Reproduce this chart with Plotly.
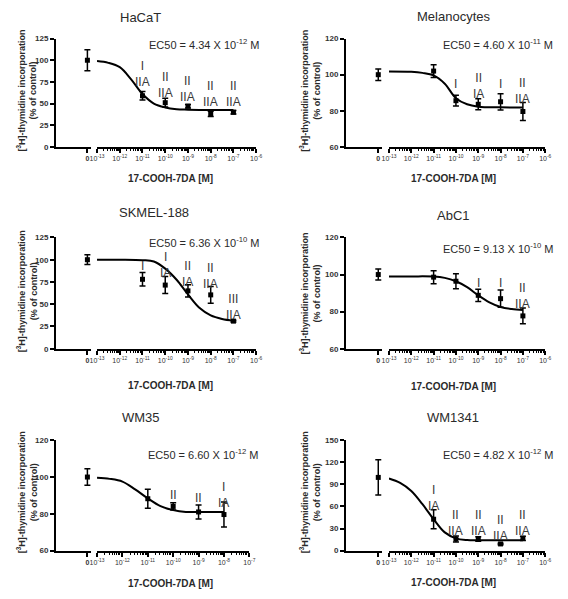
import numpy as np
import plotly.graph_objects as go

# page body has an 8px default margin; the figure is laid out in page pixels
OFF = 8
W, H = 552, 583

# ---------------- data ----------------
panel_names = ["HaCaT", "Melanocytes", "SKMEL-188", "AbC1", "WM35", "WM1341"]
ec50_texts = ["EC50 = 4.34 X 10<sup>-12</sup> M", "EC50 = 4.60 X 10<sup>-11</sup> M",
              "EC50 = 6.36 X 10<sup>-10</sup> M", "EC50 = 9.13 X 10<sup>-10</sup> M",
              "EC50 = 6.60 X 10<sup>-12</sup> M", "EC50 = 4.82 X 10<sup>-12</sup> M"]

conc_std = [1e-11, 1e-10, 1e-9, 1e-8, 1e-7]
conc_wm35 = [1e-11, 1e-10, 1e-9, 1e-8]

ctrl_mean = [100, 100, 100, 100, 100, 99.5]
ctrl_err = [12, 3.2, 5.5, 3, 4.5, 24]

hacat_mean = [59, 51, 47, 38, 40]
hacat_err = [5, 5, 2, 3, 2]
mel_mean = [102, 85.6, 83.6, 85, 79.6]
mel_err = [3.5, 3, 3, 4.5, 5]
skmel_mean = [78, 71.5, 65, 60.5, 31]
skmel_err = [7.5, 9.5, 7, 9.5, 1]
abc1_mean = [98.6, 96.4, 88.8, 87, 77.7]
abc1_err = [3.5, 4, 3.3, 4.7, 4.2]
wm35_mean = [88.2, 84, 81, 79.6]
wm35_err = [5.2, 2, 3.8, 6.8]
wm1341_mean = [42.6, 15.7, 15.7, 9, 16.6]
wm1341_err = [13, 4, 3, 1, 3]

# fitted curves (log10 concentration, % of control)
hacat_fit_x = [-13, -12.5, -12, -11.5, -11, -10.5, -10, -9.5, -9, -8, -7]
hacat_fit_y = [99, 97, 92, 78, 61, 50, 45.5, 43.5, 43, 42.5, 42.5]
mel_fit_x = [-13, -12, -11.5, -11, -10.5, -10, -9.5, -9, -8, -7]
mel_fit_y = [101.8, 101.6, 101, 99.6, 95, 87, 83.6, 82.3, 81.9, 81.8]
skmel_fit_x = [-13, -12, -11, -10.5, -10, -9.5, -9, -8.5, -8, -7.5, -7]
skmel_fit_y = [100, 100, 99.5, 98, 90, 77.5, 61, 46, 37.5, 33.5, 31.5]
abc1_fit_x = [-13, -12, -11, -10.5, -10, -9.5, -9, -8.5, -8, -7.5, -7]
abc1_fit_y = [99, 99, 98.9, 98.2, 96.4, 93.2, 88.8, 85, 82.5, 81.4, 80.9]
wm35_fit_x = [-13, -12.5, -12, -11.5, -11, -10.5, -10, -9.5, -9, -8]
wm35_fit_y = [99.6, 99, 97.5, 93.3, 88.4, 84.2, 82, 81, 81, 81]
wm1341_fit_x = [-13, -12.5, -12, -11.5, -11, -10.5, -10, -9.5, -9, -8, -7]
wm1341_fit_y = [98, 92, 81, 63, 42.6, 24.7, 16.6, 14.3, 14, 14, 14]

# significance labels
hacat_labels = ["I<br>IIA", "II<br>IIA", "II<br>IIA", "II<br>IIA", "II<br>IIA"]
hacat_label_y = [84, 72, 66.5, 60.5, 60.5]
mel_labels = ["", "I", "II<br>IA", "I", "II<br>IIA"]
mel_label_y = [0, 95, 93.7, 94.8, 91]
skmel_labels = ["I", "I<br>IA", "II<br>IA", "II<br>IIA", "III<br>IIA"]
skmel_label_y = [93, 94, 84.5, 82, 47]
abc1_labels = ["", "", "I", "I", "II<br>IIA"]
abc1_label_y = [0, 0, 95.4, 95.4, 88.2]
wm35_labels = ["", "II", "II", "I<br>IA"]
wm35_label_y = [0, 90.2, 88.4, 90.4]
wm1341_labels = ["I<br>IA", "II<br>IIA", "II<br>IIA", "II<br>IIA", "II<br>IIA"]
wm1341_label_y = [71, 37.6, 37.6, 30.5, 37.6]

y_ticks = [[0, 25, 50, 75, 100, 125], [60, 80, 100, 120], [0, 25, 50, 75, 100, 125],
           [60, 80, 100, 120], [60, 80, 100, 120], [0, 30, 60, 90, 120, 150]]
x_max_exp = [-6, -6, -6, -6, -7, -6]

panels = [
    (conc_std, hacat_mean, hacat_err, hacat_fit_x, hacat_fit_y, hacat_labels, hacat_label_y),
    (conc_std, mel_mean, mel_err, mel_fit_x, mel_fit_y, mel_labels, mel_label_y),
    (conc_std, skmel_mean, skmel_err, skmel_fit_x, skmel_fit_y, skmel_labels, skmel_label_y),
    (conc_std, abc1_mean, abc1_err, abc1_fit_x, abc1_fit_y, abc1_labels, abc1_label_y),
    (conc_wm35, wm35_mean, wm35_err, wm35_fit_x, wm35_fit_y, wm35_labels, wm35_label_y),
    (conc_std, wm1341_mean, wm1341_err, wm1341_fit_x, wm1341_fit_y, wm1341_labels, wm1341_label_y),
]

# ---------------- layout geometry (page pixels) ----------------
rows_px = [(35, 145), (237, 350), (443, 555)]
col_zero_px = [(50, 86), (347, 384)]
col_log_px = [(92, 255), (391, 551)]
wm35_log_px = (92, 248)
title_pos = [(137, 14), (457, 13), (150, 212), (457, 215), (137, 420), (457, 420)]
ec50_pos = [(202, 40), (503, 40), (202, 242), (503, 248), (201, 457), (503, 457)]
xtitle_pos = [(167, 177), (457, 177), (167, 387), (457, 388), (167, 588), (457, 587)]
ytitle_pos = [(20, 88), (310, 88), (20, 292), (310, 294), (20, 496), (310, 496)]

FONT = "Arial, Liberation Sans, sans-serif"
TXT = "#2a2a2a"

fig = go.Figure()
layout = dict(width=W, height=H, margin=dict(l=0, r=0, t=0, b=0),
              paper_bgcolor="white", plot_bgcolor="white", showlegend=False,
              font=dict(family=FONT, color=TXT))
annotations = []


def fx_(p):
    return (p - OFF) / W


def fy_(p):
    return 1 - (p - OFF) / H


def px_x(a, b):
    return [fx_(a), fx_(b)]


def px_y(top, bottom):
    return [fy_(bottom), fy_(top)]


for i, (conc, mean, err, fx, fy, labels, label_y) in enumerate(panels):
    row, col = divmod(i, 2)
    xz = 2 * i + 1
    xl = 2 * i + 2
    yn = i + 1
    xz_name = "x" if xz == 1 else f"x{xz}"
    xl_name = f"x{xl}"
    y_name = "y" if yn == 1 else f"y{yn}"
    yt = y_ticks[i]
    logx = list(np.log10(conc))

    # control (zero) point
    fig.add_trace(go.Scatter(x=[0], y=[ctrl_mean[i]], xaxis=xz_name, yaxis=y_name, mode="markers",
                             marker=dict(symbol="square", size=5, color="black"),
                             error_y=dict(type="data", array=[ctrl_err[i]], color="black",
                                          thickness=1.5, width=3),
                             cliponaxis=False))
    # fitted curve
    fig.add_trace(go.Scatter(x=fx, y=fy, xaxis=xl_name, yaxis=y_name, mode="lines",
                             line=dict(color="black", width=2, shape="spline"),
                             cliponaxis=False))
    # data points
    fig.add_trace(go.Scatter(x=logx, y=mean, xaxis=xl_name, yaxis=y_name, mode="markers",
                             marker=dict(symbol="square", size=5, color="black"),
                             error_y=dict(type="data", array=err, color="black",
                                          thickness=1.5, width=3),
                             cliponaxis=False))

    top, bottom = rows_px[row]
    zdom = col_zero_px[col]
    ldom = wm35_log_px if i == 4 else col_log_px[col]
    xmax = x_max_exp[i]
    major = list(range(-13, xmax + 1))
    minor_vals = [d + np.log10(k) for d in range(-13, xmax) for k in range(2, 10)]

    axis_common = dict(showline=True, linecolor="black", linewidth=2, showgrid=False,
                       zeroline=False, ticks="outside", ticklen=4, tickwidth=1.5,
                       tickcolor="black")

    yaxis_key = "yaxis" if yn == 1 else f"yaxis{yn}"
    layout[yaxis_key] = dict(axis_common, domain=px_y(top, bottom), range=[yt[0], yt[-1]],
                             tickvals=yt, ticktext=[f"<b>{v}</b>" for v in yt],
                             tickfont=dict(size=8, color="#333333", family=FONT),
                             anchor=xz_name, fixedrange=True)
    xz_key = "xaxis" if xz == 1 else f"xaxis{xz}"
    layout[xz_key] = dict(axis_common, domain=px_x(*zdom), range=[-1, 0.12],
                          tickvals=[0], ticktext=["<b>0</b>"], anchor=y_name,
                          tickfont=dict(size=7, color="#333333", family=FONT))
    layout[f"xaxis{xl}"] = dict(axis_common, domain=px_x(*ldom), range=[-13, xmax],
                                tickvals=major,
                                ticktext=[f"10<sup>{e}</sup>" for e in major],
                                tickfont=dict(size=7, color="#333333", family=FONT),
                                anchor=y_name,
                                minor=dict(tickvals=minor_vals, ticks="outside", ticklen=2,
                                           tickwidth=1, tickcolor="black", showgrid=False))

    # significance labels
    for xv, lab, ly in zip(logx, labels, label_y):
        if lab:
            annotations.append(dict(x=xv, y=ly, xref=xl_name, yref=y_name, text=lab,
                                    showarrow=False, xanchor="center", yanchor="middle",
                                    font=dict(size=12, color="#3a3a3a", family=FONT)))

    # panel title
    tx, ty = title_pos[i]
    annotations.append(dict(x=fx_(tx), y=fy_(ty), xref="paper", yref="paper",
                            text=panel_names[i], showarrow=False, xanchor="center",
                            yanchor="middle", font=dict(size=13, color=TXT, family=FONT)))
    # EC50
    ex, ey = ec50_pos[i]
    annotations.append(dict(x=fx_(ex), y=fy_(ey), xref="paper", yref="paper",
                            text=ec50_texts[i], showarrow=False, xanchor="center",
                            yanchor="middle", font=dict(size=11, color=TXT, family=FONT)))
    # x title
    xx, xy = xtitle_pos[i]
    annotations.append(dict(x=fx_(xx), y=fy_(xy), xref="paper", yref="paper",
                            text="<b>17-COOH-7DA [M]</b>", showarrow=False, xanchor="center",
                            yanchor="middle", font=dict(size=10, color=TXT, family=FONT)))
    # y title
    yx, yy = ytitle_pos[i]
    annotations.append(dict(x=fx_(yx), y=fy_(yy), xref="paper", yref="paper",
                            text="<b>[<sup>3</sup>H]-thymidine incorporation<br>(% of control)</b>",
                            showarrow=False, xanchor="center", yanchor="middle", textangle=-90,
                            font=dict(size=9, color=TXT, family=FONT)))

layout["annotations"] = annotations
fig.update_layout(**layout)
fig.write_html("out.html")
